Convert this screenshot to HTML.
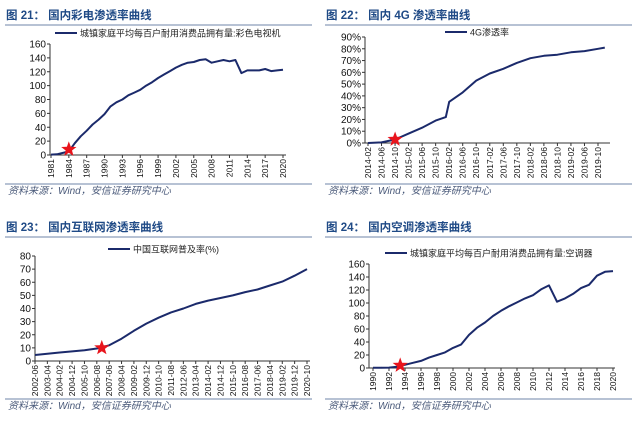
<!DOCTYPE html>
<html><head><meta charset="utf-8">
<style>
html,body{margin:0;padding:0;background:#fff;}
svg{display:block;font-family:"Liberation Sans","Noto Sans CJK SC",sans-serif;}
.title{font-weight:bold;font-size:11.5px;fill:#1f4a86;}
.tick{font-size:10px;fill:#111;}
.xt{font-size:8.5px;fill:#111;}
.src{font-size:10px;fill:#4a5a7a;font-style:italic;}
.leg{font-size:9px;fill:#222;}
</style></head>
<body>
<svg id="c" width="640" height="424" viewBox="0 0 640 424"></svg>
<script>
// Panel 21: color TV (yearly 1981-2020)
const tvYears = [];
for (let y = 1981; y <= 2020; y++) tvYears.push(y);
const tvValues = [0.6,1,3,5,17,27,35,44,51,59,70,76,80,86,90,94,100,105,111,116,121,126,130,133,134,137,138,133,135,137,135,137,118,122,122,122,124,121,122,123];
const tvTicks = [0,20,40,60,80,100,120,140,160];
const tvStar = [1984, 8];
// Panel 22: 4G
const g4Dates = ["2014-02","2014-06","2014-10","2015-02","2015-06","2015-10","2016-01","2016-02","2016-06","2016-10","2017-02","2017-06","2017-10","2018-02","2018-06","2018-10","2019-02","2019-06","2019-10","2019-12"];
const g4Values = [0,0.5,3,8,13,19,22,35,43,53,59,63,68,72,74,75,77,78,80,81];
const g4Labels = ["2014-02","2014-06","2014-10","2015-02","2015-06","2015-10","2016-02","2016-06","2016-10","2017-02","2017-06","2017-10","2018-02","2018-06","2018-10","2019-02","2019-06","2019-10"];
const g4Ticks = [0,10,20,30,40,50,60,70,80,90];
const g4Star = ["2014-10", 3];
// Panel 23: internet
const netDates = ["2002-06","2003-04","2004-02","2004-12","2005-10","2006-08","2007-06","2008-04","2009-02","2009-12","2010-10","2011-08","2012-06","2013-04","2014-02","2014-12","2015-10","2016-08","2017-06","2018-04","2019-02","2019-12","2020-10"];
const netValues = [4.6,5.5,6.5,7.3,8.2,9.5,12,17,23,28.5,33,37,40,43.5,46,48,50,52.5,54.5,57.5,60.5,65,70];
const netLabels = ["2002-06","2003-04","2004-02","2004-12","2005-10","2006-08","2007-06","2008-04","2009-02","2009-12","2010-10","2011-08","2012-06","2013-04","2014-02","2014-12","2015-10","2016-08","2017-06","2018-04","2019-02","2019-12","2020-10"];
const netTicks = [0,10,20,30,40,50,60,70,80];
const netStar = ["2006-12", 10];
// Panel 24: air conditioner
const acYears = [];
for (let y = 1990; y <= 2020; y++) acYears.push(y);
const acValues = [0.3,0.4,0.6,2,5,8,11,16,20,24,31,36,51,62,70,80,88,95,101,107,112,121,127,102,107,114,123,128,142,148,149];
const acTicks = [0,20,40,60,80,100,120,140,160];
const acStar = [1993.4, 4];

const NS = "http://www.w3.org/2000/svg";
const svg = document.getElementById("c");
function mk(tag, attrs, parent, text) {
  const e = document.createElementNS(NS, tag);
  for (const k in attrs) e.setAttribute(k, attrs[k]);
  if (text !== undefined) e.textContent = text;
  (parent || svg).appendChild(e);
  return e;
}
function mIdx(s) { const p = s.split("-"); return (+p[0]) * 12 + (+p[1]) - 1; }
function starPts(cx, cy, R, r) {
  const pts = [];
  for (let i = 0; i < 10; i++) {
    const a = -Math.PI / 2 + i * Math.PI / 5, rr = i % 2 ? r : R;
    pts.push((cx + rr * Math.cos(a)).toFixed(1) + "," + (cy + rr * Math.sin(a)).toFixed(1));
  }
  return pts.join(" ");
}

function panel(cfg) {
  const g = mk("g", {});
  
  
  const t = mk("text", {x: cfg.px + 6, y: cfg.py + 19, class: "title"}, g, cfg.title);
  
  
  const r1 = mk("line", {x1: cfg.px + 5, x2: cfg.px + 312, y1: cfg.py + 25, y2: cfg.py + 25, stroke: "#6f86a8", "stroke-width": 1}, g);
  
  
  const r2 = mk("line", {x1: cfg.px + 5, x2: cfg.px + 312, y1: cfg.by, y2: cfg.by, stroke: "#6f86a8", "stroke-width": 1}, g);
  
  
  const s = mk("text", {x: cfg.px + 8, y: cfg.by + 10, class: "src"}, g, "资料来源：Wind，安信证券研究中心");
  
  
  // legend
  const lg = mk("g", {}, g);
  
  
  mk("line", {x1: cfg.legX, x2: cfg.legX + 22, y1: cfg.legY, y2: cfg.legY, stroke: "#1b2a6b", "stroke-width": 2}, lg);
  mk("text", {x: cfg.legX + 25, y: cfg.legY + 3.5, class: "leg"}, lg, cfg.legend);

  const xS = v => cfg.x0 + (v - cfg.d0) / (cfg.d1 - cfg.d0) * (cfg.x1 - cfg.x0);
  const yS = v => cfg.yb - (v - cfg.ticks[0]) / (cfg.ticks[cfg.ticks.length - 1] - cfg.ticks[0]) * (cfg.yb - cfg.yt);
  // y axis
  const ya = mk("g", {}, g);
  
  
  mk("line", {x1: cfg.ax, x2: cfg.ax, y1: cfg.yt, y2: cfg.yb, stroke: "#333", "stroke-width": 1}, ya);
  cfg.ticks.forEach(v => {
    mk("line", {x1: cfg.ax - 3, x2: cfg.ax, y1: yS(v), y2: yS(v), stroke: "#333"}, ya);
    mk("text", {x: cfg.ax - 4, y: yS(v) + 3.5, "text-anchor": "end", class: "tick"}, ya, v + (cfg.pct ? "%" : ""));
  });
  // x axis
  const xa = mk("g", {}, g);
  
  
  mk("line", {x1: cfg.ax, x2: cfg.axEnd, y1: cfg.yb, y2: cfg.yb, stroke: "#333"}, xa);
  cfg.labels.forEach(l => {
    const x = xS(cfg.conv(l));
    mk("line", {x1: x, x2: x, y1: cfg.yb, y2: cfg.yb + 3, stroke: "#333"}, xa);
    mk("text", {x: 0, y: 0, "text-anchor": "end", class: "xt", transform: `translate(${x + 3},${cfg.yb + 4}) rotate(-90)`}, xa, l);
  });
  // line
  const d = cfg.xs.map((xv, i) => (i ? "L" : "M") + xS(cfg.conv(xv)).toFixed(1) + "," + yS(cfg.vals[i]).toFixed(1)).join("");
  const p = mk("path", {d: d, fill: "none", stroke: "#1b2a6b", "stroke-width": 2, "stroke-linejoin": "round"}, g);
  
  
  const st = mk("polygon", {points: starPts(xS(cfg.conv(cfg.star[0])), yS(cfg.star[1]), 8, 3.3), fill: "#e8141c"}, g);
  
  
}

const id = v => v;
panel({name: "panel-color-tv", title: "图 21：  国内彩电渗透率曲线", px: 0, py: 0, by: 184,
  legend: "城镇家庭平均每百户耐用消费品拥有量:彩色电视机", legX: 55, legY: 33,
  ax: 50, axEnd: 286, x0: 51, x1: 283, d0: 1981, d1: 2020, yt: 44, yb: 155,
  ticks: tvTicks, labels: tvYears.filter((y, i) => i % 3 === 0), conv: id, xs: tvYears, vals: tvValues, star: tvStar});
panel({name: "panel-4g", title: "图 22：  国内 4G 渗透率曲线", px: 320, py: 0, by: 184,
  legend: "4G渗透率", legX: 445, legY: 32, pct: true,
  ax: 365, axEnd: 610, x0: 368, x1: 598, d0: mIdx("2014-02"), d1: mIdx("2019-10"), yt: 37, yb: 143,
  ticks: g4Ticks, labels: g4Labels, conv: mIdx, xs: g4Dates, vals: g4Values, star: g4Star});
panel({name: "panel-internet", title: "图 23：  国内互联网渗透率曲线", px: 0, py: 212, by: 399,
  legend: "中国互联网普及率(%)", legX: 108, legY: 249,
  ax: 35, axEnd: 310, x0: 35, x1: 307, d0: mIdx("2002-06"), d1: mIdx("2020-10"), yt: 256, yb: 361,
  ticks: netTicks, labels: netLabels, conv: mIdx, xs: netDates, vals: netValues, star: netStar});
panel({name: "panel-air-conditioner", title: "图 24：  国内空调渗透率曲线", px: 320, py: 212, by: 399,
  legend: "城镇家庭平均每百户耐用消费品拥有量:空调器", legX: 385, legY: 253,
  ax: 369, axEnd: 615, x0: 373, x1: 613, d0: 1990, d1: 2020, yt: 264, yb: 368,
  ticks: acTicks, labels: acYears.filter((y, i) => i % 2 === 0), conv: id, xs: acYears, vals: acValues, star: acStar});
</script>
</body></html>
